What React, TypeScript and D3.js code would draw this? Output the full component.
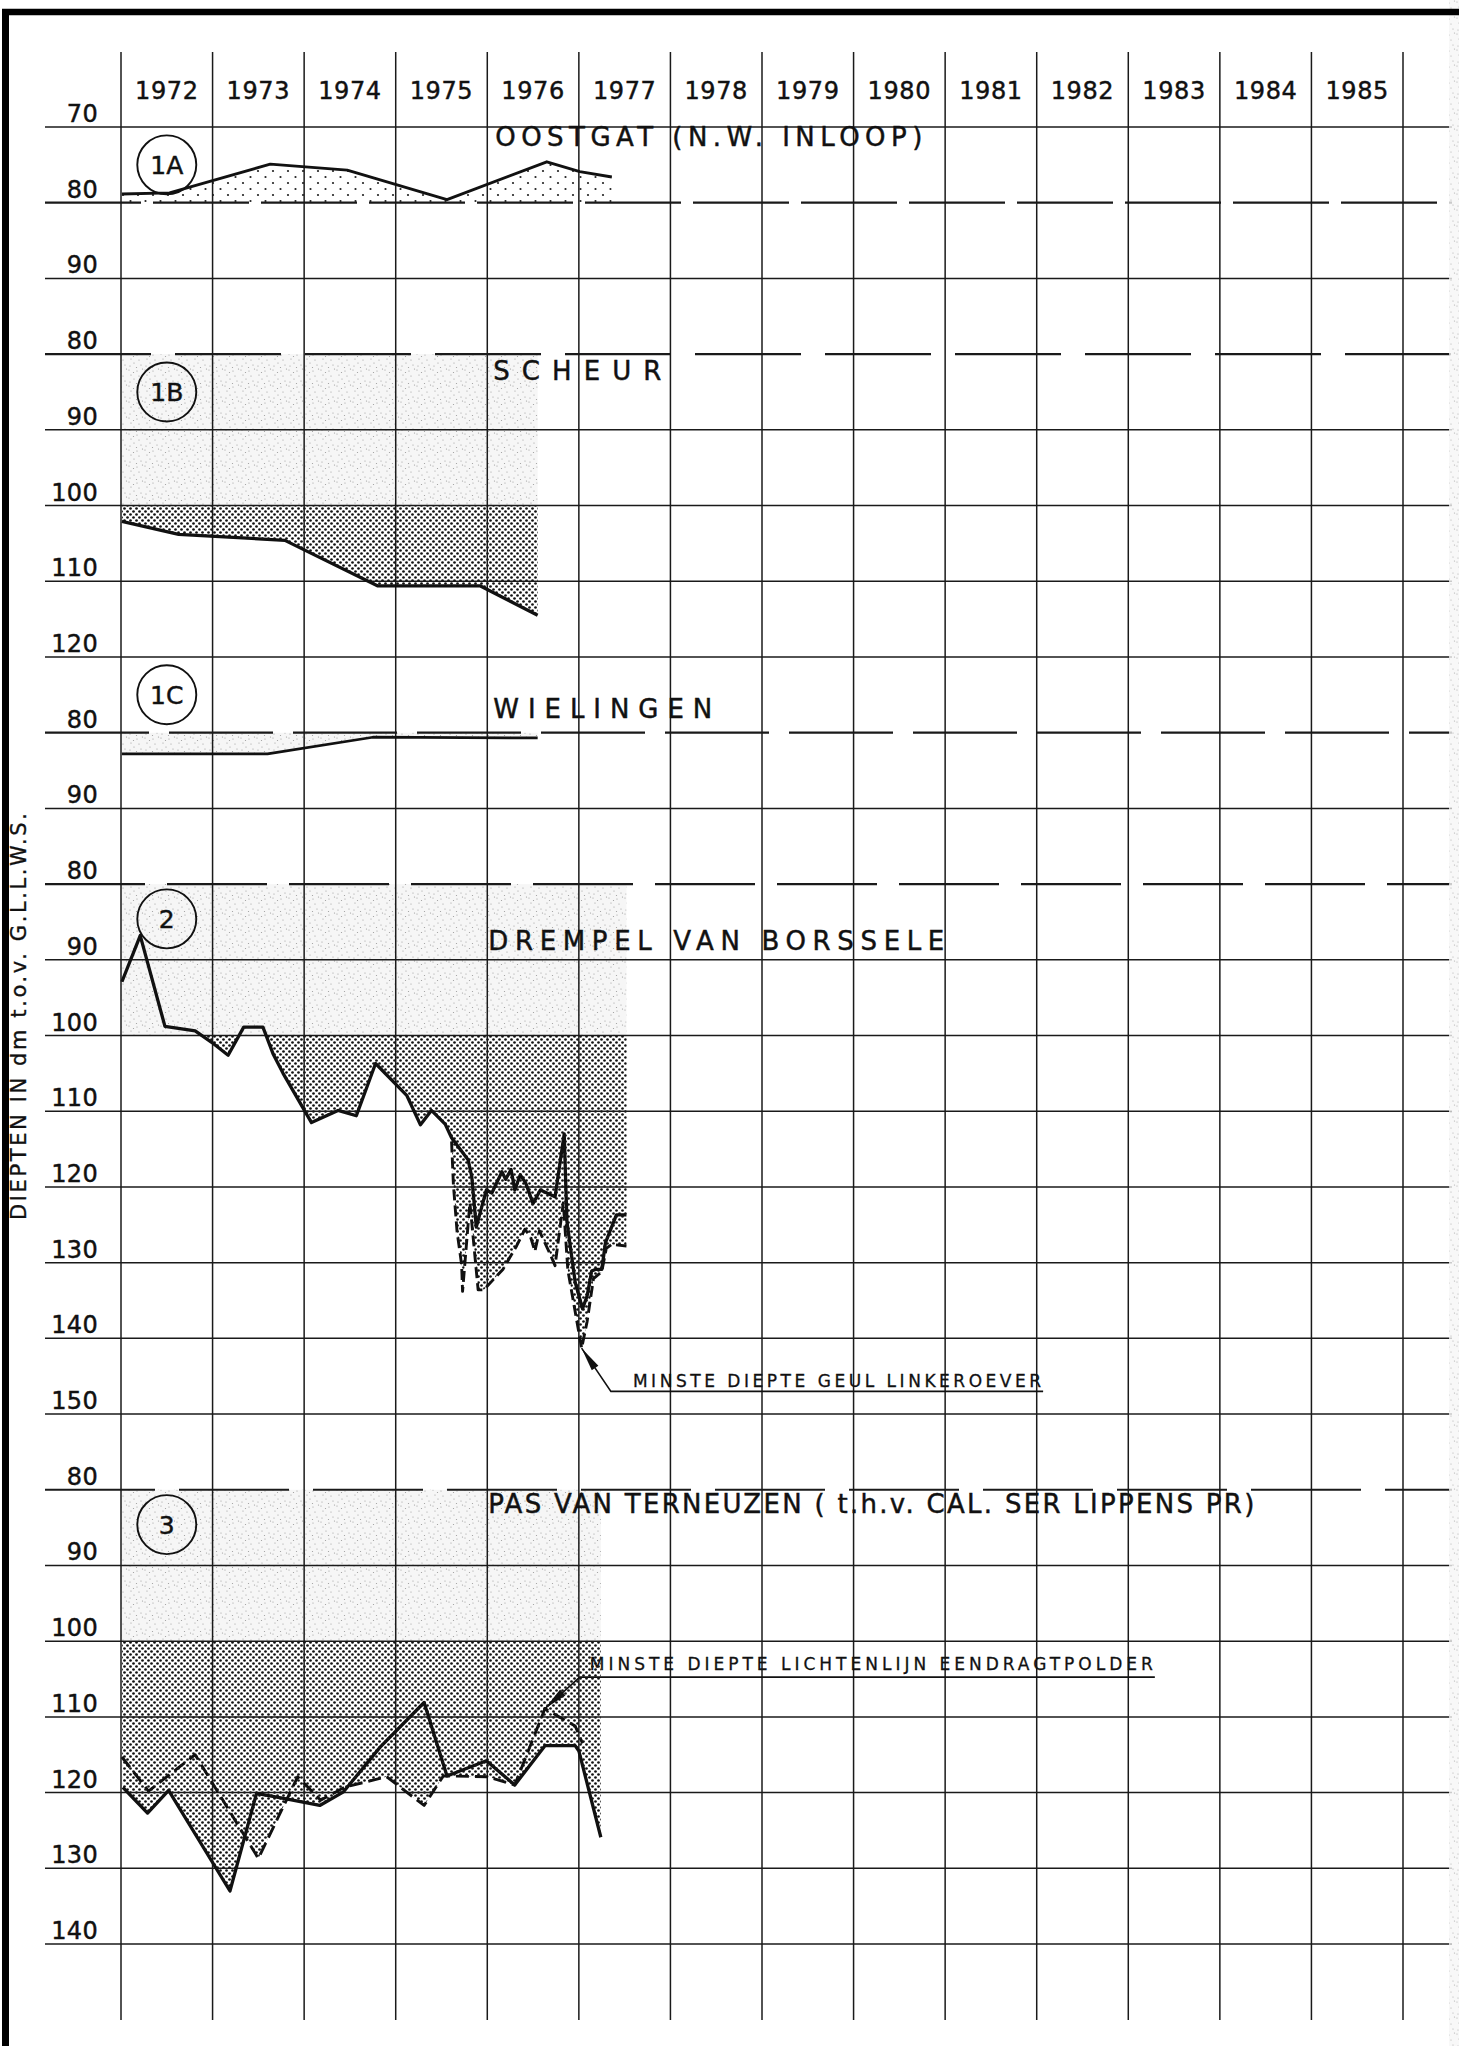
import React from 'react';
import * as d3 from 'd3';

// ---------- DATA ----------
const years = [1972, 1973, 1974, 1975, 1976, 1977, 1978, 1979, 1980, 1981, 1982, 1983, 1984, 1985];

const ticks1A = [70, 80, 90];
const ticks1B = [80, 90, 100, 110, 120];
const ticks1C = [80, 90];
const ticks2 = [80, 90, 100, 110, 120, 130, 140, 150];
const ticks3 = [80, 90, 100, 110, 120, 130, 140];

const titles = [
  'OOSTGAT (N.W. INLOOP)',
  'SCHEUR',
  'WIELINGEN',
  'DREMPEL VAN BORSSELE',
  'PAS VAN TERNEUZEN ( t.h.v. CAL. SER LIPPENS PR)',
];
const badges = ['1A', '1B', '1C', '2', '3'];
const axisTitle = 'DIEPTEN IN dm t.o.v. G.L.L.W.S.';

// [year, depth in dm]
const oostgat: [number, number][] = [
  [1972.01, 78.85], [1972.53, 78.7], [1973.63, 74.9], [1974.47, 75.7],
  [1975.56, 79.6], [1976.65, 74.6], [1977.01, 75.9], [1977.36, 76.6],
];
const scheur: [number, number][] = [
  [1972.01, 102.1], [1972.63, 103.8], [1973.79, 104.6], [1974.8, 110.6],
  [1975.92, 110.6], [1976.55, 114.5],
];
const wielingen: [number, number][] = [
  [1972.01, 82.8], [1973.6, 82.8], [1974.75, 80.6], [1976.55, 80.7],
];
const drempelSolid: [number, number][] = [
  [1972.01, 92.9], [1972.21, 86.8], [1972.48, 98.8], [1972.81, 99.4], [1972.99, 100.9],
  [1973.17, 102.6], [1973.34, 98.9], [1973.55, 98.9], [1973.66, 102.4], [1973.77, 105.0],
  [1974.08, 111.5], [1974.37, 109.9], [1974.57, 110.6], [1974.78, 103.7], [1975.12, 107.9],
  [1975.27, 111.8], [1975.39, 109.9], [1975.54, 111.7], [1975.61, 113.5], [1975.79, 116.4],
  [1975.83, 118.6], [1975.85, 121.3], [1975.88, 125.3], [1975.94, 122.6], [1975.99, 120.4],
  [1976.05, 120.8], [1976.16, 118.0], [1976.2, 119.0], [1976.26, 117.7], [1976.3, 120.4],
  [1976.36, 118.4], [1976.42, 119.5], [1976.5, 122.2], [1976.58, 120.4], [1976.74, 121.3],
  [1976.84, 113.0], [1976.87, 124.6], [1976.96, 132.6], [1977.04, 136.1], [1977.09, 134.4],
  [1977.14, 131.1], [1977.18, 130.9], [1977.25, 130.9], [1977.29, 127.4], [1977.41, 123.7],
  [1977.52, 123.7],
];
const drempelDashed: [number, number][] = [
  [1975.61, 114.0], [1975.63, 119.7], [1975.67, 125.9], [1975.72, 130.3], [1975.73, 133.8],
  [1975.81, 122.1], [1975.9, 133.6], [1975.96, 133.6], [1976.17, 130.9], [1976.32, 127.8],
  [1976.41, 125.6], [1976.47, 126.5], [1976.52, 128.5], [1976.57, 125.8], [1976.61, 126.9],
  [1976.68, 128.7], [1976.74, 130.4], [1976.83, 122.1], [1976.88, 131.0], [1977.03, 141.3],
  [1977.09, 137.8], [1977.16, 132.1], [1977.25, 131.2], [1977.3, 128.1], [1977.36, 127.6],
  [1977.52, 127.8],
];
const terneuzenSolid: [number, number][] = [
  [1972.02, 119.3], [1972.29, 122.7], [1972.52, 119.7], [1973.19, 133.0], [1973.48, 120.1],
  [1973.79, 120.8], [1974.17, 121.7], [1974.43, 119.9], [1974.83, 114.0], [1975.31, 108.1],
  [1975.56, 117.8], [1975.99, 115.8], [1976.3, 119.0], [1976.63, 113.8], [1976.96, 113.8],
  [1977.0, 114.5], [1977.24, 125.9],
];
const terneuzenDashed: [number, number][] = [
  [1972.01, 115.3], [1972.3, 119.8], [1972.81, 115.0], [1973.5, 128.7], [1973.93, 117.9],
  [1974.18, 121.0], [1974.44, 119.3], [1974.9, 117.9], [1975.31, 121.7], [1975.52, 117.8],
  [1976.0, 117.9], [1976.3, 119.0], [1976.63, 108.9], [1976.96, 111.2], [1977.04, 113.5],
];

// year where each panel's shaded block ends
const shadeEnd = [1977.36, 1976.55, 1976.55, 1977.52, 1977.24];

const noteTexts = ['MINSTE DIEPTE GEUL LINKEROEVER', 'MINSTE DIEPTE LICHTENLIJN EENDRAGTPOLDER'];
const notePanels = [3, 4];
const noteTips: [number, number][] = [[1977.03, 141.3], [1976.63, 108.9]];
const noteElbows: [number, number][] = [[1977.35, 147.0], [1977.01, 104.75]];
const noteEnds = [1982.07, 1983.29];

// ---------- LAYOUT ----------
const W = 1459;
const H = 2046;
const FONT = '"DejaVu Sans", "Liberation Sans", sans-serif';
const allTicks = [ticks1A, ticks1B, ticks1C, ticks2, ticks3];

export default function App() {
  const x = d3.scaleLinear().domain([years[0], years[0] + years.length]).range([121, 1403]);
  const startRows: number[] = [];
  let acc = 0;
  allTicks.forEach((t) => { startRows.push(acc); acc += t.length; });
  const rowScale = d3.scaleLinear().domain([0, acc - 1]).range([127, 1944]);
  const yAt = (p: number, depth: number) => {
    const t = allTicks[p];
    return rowScale(startRows[p] + (depth - t[0]) / (t[1] - t[0]));
  };

  const gridYears = years.concat([years[years.length - 1] + 1]);
  const lineTop = 52;
  const lineBottom = 2020;
  const hx0 = 45;
  const hx1 = 1452;

  const dashArr = ['96 12', '106 24', '104 20', '100 22', '110 24'];

  const titleDx = [8, 6, 6, 1, 1];
  const titleW = [427, 168, 219, 456, 766];
  const titleDepth = [72.5, 83.4, 78.1, 88.7, 83.1];
  const badgeDepth = [75, 85, 75, 84.6, 84.6];

  const mkLine = (p: number) =>
    d3.line<[number, number]>().x((d) => x(d[0])).y((d) => yAt(p, d[1]));
  const mkArea = (p: number, base: number) =>
    d3.area<[number, number]>().x((d) => x(d[0])).y0(yAt(p, base)).y1((d) => yAt(p, d[1]));

  const arrowHead = (tip: number[], from: number[], len: number, w: number) => {
    const dx = from[0] - tip[0];
    const dy = from[1] - tip[1];
    const L = Math.hypot(dx, dy);
    const ux = dx / L;
    const uy = dy / L;
    const bx = tip[0] + ux * len;
    const by = tip[1] + uy * len;
    const px = (-uy * w) / 2;
    const py = (ux * w) / 2;
    return `M${tip[0]},${tip[1]}L${bx + px},${by + py}L${bx - px},${by - py}Z`;
  };

  const lightDots: [number, number][] = [
    [1, 2], [9, 3], [3, 7], [11, 8], [6, 11], [5.5, 4.5], [13, 13], [2, 14], [8.5, 15.5], [14.5, 1],
  ];

  const lw = 3.3;
  const txt = { fontFamily: FONT, fill: '#111', stroke: '#111', strokeWidth: 0.45 } as const;

  return (
    <svg width={W} height={H} style={{ position: 'absolute', left: 0, top: 0, background: '#fff' }}>
      <defs>
        <pattern id="dense" width="6" height="6" patternUnits="userSpaceOnUse">
          <rect width="6" height="6" fill="#fff" />
          <circle cx="1.5" cy="1.5" r="1.35" fill="#111" />
          <circle cx="4.5" cy="4.5" r="1.35" fill="#111" />
        </pattern>
        <pattern id="light" width="16" height="16" patternUnits="userSpaceOnUse">
          <rect width="16" height="16" fill="#f6f6f6" />
          {lightDots.map((d, i) => (
            <circle key={i} cx={d[0]} cy={d[1]} r="0.6" fill="#9a9a9a" />
          ))}
        </pattern>
        <pattern id="sparse" width="15" height="12" patternUnits="userSpaceOnUse">
          <rect width="15" height="12" fill="#fff" />
          <circle cx="3" cy="3" r="1.1" fill="#222" />
          <circle cx="10.5" cy="9" r="1.1" fill="#222" />
        </pattern>
        {[1, 3, 4].map((p) => (
          <clipPath id={`clip${p}`} key={p}>
            <rect x={x(years[0])} y={yAt(p, 100)} width={x(shadeEnd[p]) - x(years[0]) + 1}
              height={yAt(p, allTicks[p][allTicks[p].length - 1]) - yAt(p, 100) + 80} />
          </clipPath>
        ))}
      </defs>

      <rect width={W} height={H} fill="#fff" />

      {/* light stipple blocks */}
      {[1, 3, 4].map((p) => (
        <rect key={`lr${p}`} x={x(years[0])} y={yAt(p, 80)} width={x(shadeEnd[p]) - x(years[0])}
          height={yAt(p, 100) - yAt(p, 80)} fill="url(#light)" />
      ))}
      <path d={mkArea(2, 80)(wielingen) || ''} fill="url(#light)" />

      {/* dotted fills */}
      <path d={mkArea(0, 80)(oostgat) || ''} fill="url(#sparse)" />
      <g clipPath="url(#clip1)">
        <path d={mkArea(1, 100)(scheur) || ''} fill="url(#dense)" />
      </g>
      <g clipPath="url(#clip3)">
        <path d={mkArea(3, 100)(drempelSolid) || ''} fill="url(#dense)" />
        <path d={mkArea(3, 100)(drempelDashed) || ''} fill="url(#dense)" />
      </g>
      <g clipPath="url(#clip4)">
        <path d={mkArea(4, 100)(terneuzenSolid) || ''} fill="url(#dense)" />
        <path d={mkArea(4, 100)(terneuzenDashed) || ''} fill="url(#dense)" />
      </g>

      {/* grid: horizontal lines + depth labels */}
      {allTicks.map((t, p) =>
        t.map((v) => {
          const yy = yAt(p, v);
          const dashed = v === 80;
          return (
            <g key={`h${p}-${v}`}>
              <line x1={hx0} x2={hx1} y1={yy} y2={yy} stroke="#1a1a1a"
                strokeWidth={dashed ? 2.2 : 1.5}
                strokeDasharray={dashed ? dashArr[p] : undefined} />
              <text x={98} y={yy - 5} textAnchor="end" fontSize={24} letterSpacing={0.3} {...txt}>{v}</text>
            </g>
          );
        })
      )}

      {/* grid: vertical lines */}
      {gridYears.map((yr) => (
        <line key={`v${yr}`} x1={x(yr)} x2={x(yr)} y1={lineTop} y2={lineBottom} stroke="#1a1a1a" strokeWidth={1.5} />
      ))}

      {/* year labels */}
      {years.map((yr) => (
        <text key={`y${yr}`} x={x(yr + 0.5)} y={99} textAnchor="middle" fontSize={24} letterSpacing={0.6} {...txt}>{yr}</text>
      ))}

      {/* data lines */}
      <path d={mkLine(0)(oostgat) || ''} fill="none" stroke="#111" strokeWidth={2.9} strokeLinejoin="round" />
      <path d={mkLine(1)(scheur) || ''} fill="none" stroke="#111" strokeWidth={lw} strokeLinejoin="round" />
      <path d={mkLine(2)(wielingen) || ''} fill="none" stroke="#111" strokeWidth={2.7} strokeLinejoin="round" />
      <path d={mkLine(3)(drempelDashed) || ''} fill="none" stroke="#111" strokeWidth={2.9}
        strokeDasharray="11 5" strokeLinejoin="round" />
      <path d={mkLine(3)(drempelSolid) || ''} fill="none" stroke="#111" strokeWidth={lw} strokeLinejoin="round" />
      <path d={mkLine(4)(terneuzenDashed) || ''} fill="none" stroke="#111" strokeWidth={2.9}
        strokeDasharray="13 6" strokeLinejoin="round" />
      <path d={mkLine(4)(terneuzenSolid) || ''} fill="none" stroke="#111" strokeWidth={lw} strokeLinejoin="round" />

      {/* titles and badges */}
      {titles.map((t, p) => (
        <text key={`t${p}`} x={x(1976) + titleDx[p]} y={yAt(p, titleDepth[p])} fontSize={26}
          textLength={titleW[p]} lengthAdjust="spacing" {...txt}>{t}</text>
      ))}
      {badges.map((b, p) => (
        <g key={`b${p}`}>
          <circle cx={x(years[0] + 0.5)} cy={yAt(p, badgeDepth[p])} r={29.5} fill="none"
            stroke="#111" strokeWidth={1.9} />
          <text x={x(years[0] + 0.5)} y={yAt(p, badgeDepth[p]) + 9} textAnchor="middle" fontSize={25} {...txt}>{b}</text>
        </g>
      ))}

      {/* annotations */}
      {noteTexts.map((t, i) => {
        const p = notePanels[i];
        const tip = [x(noteTips[i][0]), yAt(p, noteTips[i][1])];
        const elbow = [x(noteElbows[i][0]), yAt(p, noteElbows[i][1])];
        const end = x(noteEnds[i]);
        const tx = elbow[0] + (i === 0 ? 22 : 10);
        return (
          <g key={`n${i}`}>
            <path d={`M${tip[0]},${tip[1]}L${elbow[0]},${elbow[1]}L${end},${elbow[1]}`} fill="none"
              stroke="#111" strokeWidth={1.6} />
            <path d={arrowHead(tip, elbow, 24, 8)} fill="#111" />
            <text x={tx} y={elbow[1] - (i === 0 ? 4 : 7)} fontSize={17}
              textLength={end - tx - 2} lengthAdjust="spacing" {...txt} strokeWidth={0.3}>{t}</text>
          </g>
        );
      })}

      {/* axis title */}
      <text transform={`translate(26,${(813 + 1220) / 2}) rotate(-90)`} textAnchor="middle" fontSize={21}
        textLength={407} lengthAdjust="spacing" {...txt} strokeWidth={0.35}>{axisTitle}</text>

      {/* scan edge and frame */}
      <rect x={1449} y={0} width={10} height={H} fill="url(#light)" opacity={0.8} />
      <line x1={2} x2={W} y1={12} y2={12} stroke="#000" strokeWidth={6.5} />
      <line x1={5.5} x2={5.5} y1={9} y2={H} stroke="#000" strokeWidth={7} />
    </svg>
  );
}
